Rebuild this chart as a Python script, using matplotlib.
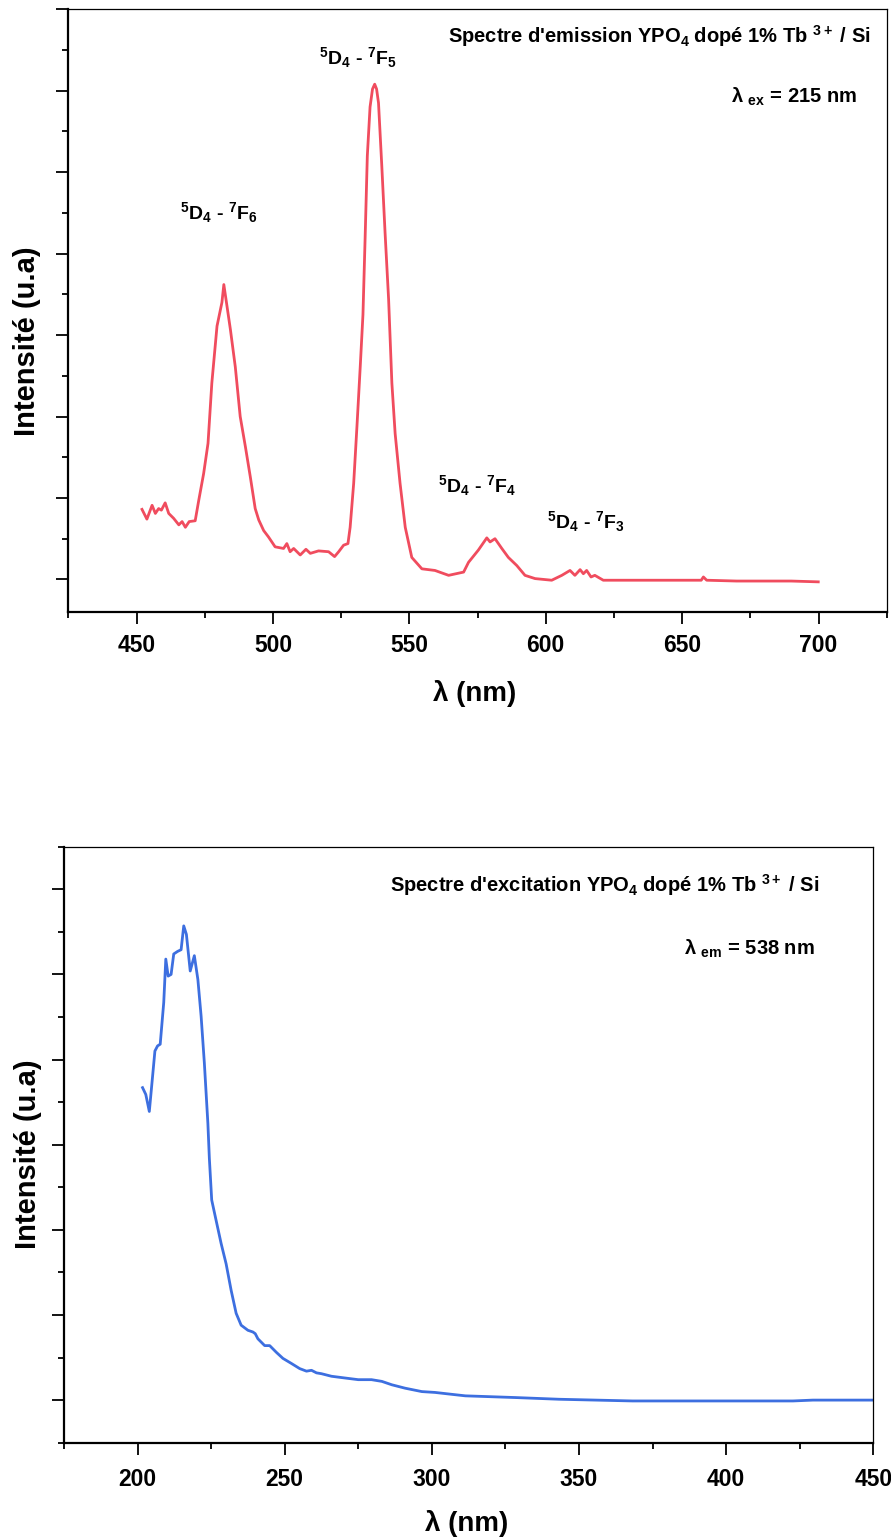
import matplotlib
matplotlib.use('Agg')
import matplotlib.pyplot as plt
from matplotlib.ticker import MultipleLocator, NullFormatter

plt.rcParams['font.family'] = ['Liberation Sans', 'DejaVu Sans']
plt.rcParams['font.weight'] = 'bold'
plt.rcParams['mathtext.fontset'] = 'custom'
plt.rcParams['mathtext.rm'] = 'Liberation Sans:bold'
plt.rcParams['mathtext.it'] = 'Liberation Sans:bold'
plt.rcParams['mathtext.bf'] = 'Liberation Sans:bold'

# emission spectrum (excitation at 215 nm), intensity in arbitrary units
em_wl = [452.0, 453.8, 455.7, 456.9, 458.1, 459.1, 460.5, 461.8, 463.6, 465.5,
         466.7, 467.9, 469.3, 471.5, 472.8, 474.6, 476.2, 477.6, 479.5, 481.3,
         482.0, 484.4, 486.2, 488.0, 489.9, 491.7, 493.5, 494.8, 496.6, 498.4,
         500.8, 503.9, 505.1, 506.3, 507.6, 510.0, 512.1, 513.7, 516.7, 520.4,
         522.6, 524.1, 525.9, 527.5, 528.3, 529.6, 530.8, 532.0, 533.0, 533.8,
         534.6, 535.6, 536.5, 537.3, 538.0, 538.7, 539.9, 541.1, 542.4, 543.6,
         544.8, 546.6, 548.5, 550.9, 554.6, 559.4, 564.4, 569.9, 571.7, 575.3,
         578.4, 579.6, 581.4, 583.9, 586.3, 589.4, 592.4, 596.1, 602.2, 605.9,
         608.9, 610.7, 612.6, 613.8, 615.0, 616.6, 618.0, 621.1, 632.7, 645.0,
         657.0, 657.8, 659.0, 670.0, 681.6, 690.0, 699.9]
em_int = [0.86, 0.74, 0.91, 0.81, 0.87, 0.85, 0.94, 0.81, 0.75, 0.67,
          0.71, 0.64, 0.71, 0.72, 0.97, 1.30, 1.67, 2.41, 3.11, 3.40,
          3.62, 3.07, 2.61, 2.00, 1.63, 1.26, 0.87, 0.73, 0.60, 0.52,
          0.40, 0.38, 0.44, 0.34, 0.38, 0.30, 0.37, 0.32, 0.35, 0.34,
          0.28, 0.34, 0.42, 0.44, 0.64, 1.18, 1.88, 2.61, 3.25, 4.20,
          5.20, 5.80, 6.02, 6.08, 6.02, 5.85, 5.08, 4.26, 3.44, 2.41,
          1.79, 1.18, 0.64, 0.27, 0.13, 0.11, 0.05, 0.09, 0.21, 0.36,
          0.51, 0.46, 0.50, 0.38, 0.27, 0.17, 0.05, 0.01, -0.01, 0.05,
          0.11, 0.05, 0.12, 0.07, 0.11, 0.03, 0.05, -0.01, -0.01, -0.01,
          -0.01, 0.03, -0.01, -0.02, -0.02, -0.02, -0.03]

# transition labels and where they sit (wavelength, height)
em_labels = ['$^5$D$_4$ - $^7$F$_6$', '$^5$D$_4$ - $^7$F$_5$',
             '$^5$D$_4$ - $^7$F$_4$', '$^5$D$_4$ - $^7$F$_3$']
em_label_x = [480.0, 531.1, 574.7, 614.7]
em_label_y = [4.42, 6.33, 1.07, 0.63]

# excitation spectrum (emission at 538 nm)
ex_wl = [201.7, 202.8, 204.0, 205.1, 205.9, 206.8, 207.7, 208.9, 209.6, 210.4,
         211.4, 212.3, 213.6, 214.8, 215.7, 216.6, 217.9, 219.3, 220.5, 221.6,
         222.7, 223.9, 224.4, 225.2, 226.7, 228.4, 230.1, 231.8, 233.5, 235.2,
         237.5, 239.2, 240.0, 240.9, 243.2, 244.9, 247.2, 249.4, 252.3, 255.1,
         257.4, 259.1, 260.8, 262.5, 265.9, 270.4, 275.0, 279.5, 283.0, 286.4,
         290.9, 296.6, 301.1, 306.2, 311.4, 328.4, 343.2, 368.2, 390.9, 422.7,
         429.5, 450.0]
ex_int = [3.67, 3.59, 3.39, 3.80, 4.10, 4.16, 4.18, 4.67, 5.18, 4.98,
          5.00, 5.24, 5.27, 5.29, 5.57, 5.47, 5.04, 5.22, 4.94, 4.51,
          3.96, 3.25, 2.84, 2.35, 2.11, 1.84, 1.60, 1.29, 1.02, 0.88,
          0.82, 0.80, 0.78, 0.72, 0.64, 0.64, 0.56, 0.49, 0.43, 0.37,
          0.34, 0.35, 0.32, 0.31, 0.28, 0.26, 0.24, 0.24, 0.22, 0.18,
          0.14, 0.10, 0.09, 0.07, 0.05, 0.03, 0.01, -0.01, -0.01, -0.01,
          0.0, 0.0]


def style_axes(ax):
    for side in ['left', 'bottom']:
        ax.spines[side].set_linewidth(1.6)
    for side in ['top', 'right']:
        ax.spines[side].set_linewidth(0.9)
    ax.xaxis.set_major_locator(MultipleLocator(50))
    ax.xaxis.set_minor_locator(MultipleLocator(25))
    ax.yaxis.set_major_locator(MultipleLocator(1))
    ax.yaxis.set_minor_locator(MultipleLocator(0.5))
    ax.yaxis.set_major_formatter(NullFormatter())
    ax.tick_params(which='major', direction='out', length=8.5, width=1.3,
                   labelsize=16.5, top=False, right=False)
    ax.tick_params(which='minor', direction='out', length=4.5, width=1.3,
                   top=False, right=False)
    for lab in ax.get_xticklabels():
        lab.set_fontweight('bold')


fig = plt.figure(figsize=(8.91, 15.40), dpi=100)

# top: emission
ax1 = fig.add_axes([0.0767, 0.6026, 0.9185, 0.3914])
ax1.plot(em_wl, em_int, color='#f04c5e', lw=2.0)
ax1.set_xlim(425, 725)
ax1.set_ylim(-0.4, 7.0)
style_axes(ax1)
ax1.tick_params(axis='x', pad=7)
ax1.set_xlabel('λ (nm)', fontsize=20, fontweight='bold')
ax1.xaxis.set_label_coords(0.497, -0.113)
ax1.set_ylabel('Intensité (u.a)', fontsize=21, fontweight='bold')
ax1.yaxis.set_label_coords(-0.033, 0.45)
for txt, x, y in zip(em_labels, em_label_x, em_label_y):
    ax1.text(x, y, txt, ha='center', va='baseline', fontsize=14, fontweight='bold')
ax1.text(0.98, 0.944, "Spectre d'emission YPO$_4$ dopé 1% Tb $^{3+}$ / Si",
         transform=ax1.transAxes, ha='right', va='baseline', fontsize=14.5,
         fontweight='bold')
ax1.text(0.964, 0.845, 'λ $_{ex}$ = 215 nm', transform=ax1.transAxes,
         ha='right', va='baseline', fontsize=14.5, fontweight='bold')

# bottom: excitation
ax2 = fig.add_axes([0.0718, 0.0632, 0.9083, 0.3870])
ax2.plot(ex_wl, ex_int, color='#3d6fe0', lw=2.0)
ax2.set_xlim(175, 450)
ax2.set_ylim(-0.5, 6.5)
style_axes(ax2)
ax2.tick_params(axis='x', pad=10)
ax2.set_xlabel('λ (nm)', fontsize=20, fontweight='bold')
ax2.xaxis.set_label_coords(0.498, -0.113)
ax2.set_ylabel('Intensité (u.a)', fontsize=21, fontweight='bold')
ax2.yaxis.set_label_coords(-0.027, 0.484)
ax2.text(0.934, 0.924, "Spectre d'excitation YPO$_4$ dopé 1% Tb $^{3+}$ / Si",
         transform=ax2.transAxes, ha='right', va='baseline', fontsize=14.5,
         fontweight='bold')
ax2.text(0.928, 0.818, 'λ $_{em}$ = 538 nm', transform=ax2.transAxes,
         ha='right', va='baseline', fontsize=14.5, fontweight='bold')

fig.savefig('out.png', dpi=100)
